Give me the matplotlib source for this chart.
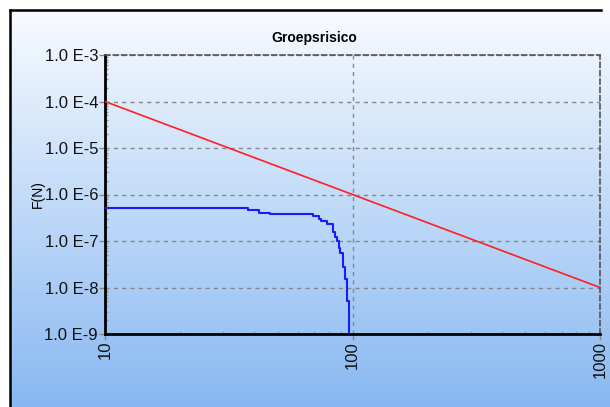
import numpy as np
import matplotlib
matplotlib.use("Agg")
import matplotlib.pyplot as plt
from matplotlib.lines import Line2D
from matplotlib.ticker import LogLocator, FixedLocator

plt.rcParams['font.family'] = ['Liberation Sans Narrow', 'Liberation Sans', 'DejaVu Sans']

# data
norm_x = [10, 1000]
norm_y = [1e-4, 1e-8]

gr_x = [10, 38, 41.8, 46.6, 69, 73.4, 74.6, 78.9, 83.2, 84.7, 86.7, 88.1,
        89.3, 91.4, 92.9, 95.1, 96.6]
gr_y = [5.1e-7, 4.6e-7, 4.07e-7, 3.8e-7, 3.5e-7, 2.93e-7, 2.73e-7, 2.29e-7,
        1.59e-7, 1.24e-7, 1.02e-7, 7.2e-8, 5.4e-8, 2.7e-8, 1.5e-8, 5.2e-9, 1e-11]

y_ticks = [1e-9, 1e-8, 1e-7, 1e-6, 1e-5, 1e-4, 1e-3]
y_labels = ["1.0 E-9", "1.0 E-8", "1.0 E-7", "1.0 E-6", "1.0 E-5", "1.0 E-4", "1.0 E-3"]
x_ticks = [10, 100, 1000]
x_labels = ["10", "100", "1000"]

W, H = 610, 407
fig = plt.figure(figsize=(W / 100, H / 100), dpi=100)
fig.patch.set_facecolor("white")

# gradient background inside the frame
bg = fig.add_axes([10 / W, 0, 1 - 10 / W, 1 - 10 / H], zorder=0)
top = np.array([248, 251, 255]) / 255
bot = np.array([136, 184, 241]) / 255
t = np.linspace(0, 1, 256)[:, None]
grad = top[None, :] * (1 - t) + bot[None, :] * t
bg.imshow(grad[:, None, :].repeat(2, axis=1), aspect="auto", extent=[0, 1, 0, 1])
bg.axis("off")

# frame lines
fig.add_artist(Line2D([10 / W, 601 / W], [1 - 10 / H, 1 - 10 / H], color="black", lw=1.8))
fig.add_artist(Line2D([10 / W, 10 / W], [0, 1 - 10 / H], color="black", lw=1.8))

ax = fig.add_axes([105 / W, 1 - 334 / H, (600 - 105) / W, (334 - 55) / H], zorder=1)
ax.patch.set_alpha(0)
ax.set_xscale("log")
ax.set_yscale("log")
ax.set_xlim(10, 1000)
ax.set_ylim(1e-9, 1e-3)

ax.plot(norm_x, norm_y, color="#ff2020", lw=1.2, zorder=3)
ax.plot(gr_x, gr_y, color="#1a1aff", lw=1.5, drawstyle="steps-post", zorder=3)

ax.yaxis.set_major_locator(FixedLocator(y_ticks))
ax.set_yticklabels(y_labels)
ax.xaxis.set_major_locator(FixedLocator(x_ticks))
ax.set_xticklabels(x_labels, rotation=90)
ax.yaxis.set_minor_locator(LogLocator(base=10, subs=np.arange(2, 10)))
ax.yaxis.set_minor_formatter(plt.NullFormatter())
ax.xaxis.set_minor_locator(LogLocator(base=10, subs=np.arange(2, 10)))
ax.xaxis.set_minor_formatter(plt.NullFormatter())

ax.tick_params(which="major", length=4, width=1, color="#888888", labelsize=12,
               labelcolor="#111111", pad=1)
ax.tick_params(which="minor", length=2, width=1, color="#999999", direction="in")

ax.grid(which="major", color="#888888", ls=(0, (3, 3)), lw=1)
ax.set_axisbelow(True)

for s in ["left", "bottom"]:
    ax.spines[s].set_color("black")
    ax.spines[s].set_linewidth(2)
for s in ["top", "right"]:
    ax.spines[s].set_color("#555555")
    ax.spines[s].set_linewidth(1.2)
    ax.spines[s].set_linestyle((0, (3, 2)))

ax.set_ylabel("F(N)", fontsize=10, labelpad=0)
fig.text(314 / W, 1 - 38 / H, "Groepsrisico", ha="center", va="center",
         fontsize=10, fontweight="bold")

fig.savefig("out.png", dpi=100)
